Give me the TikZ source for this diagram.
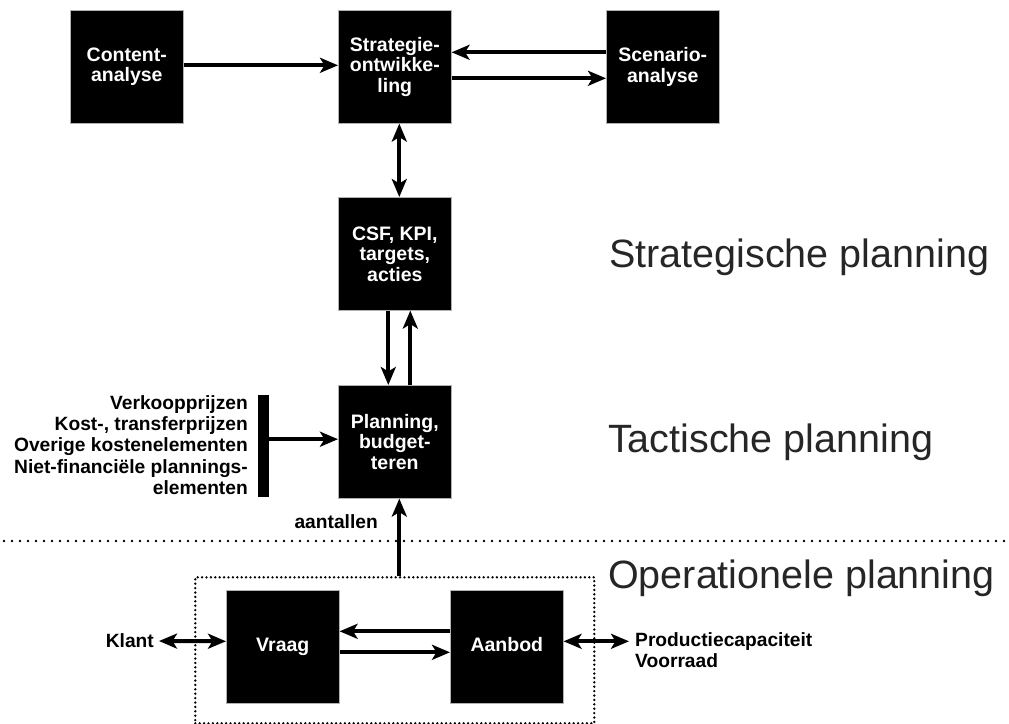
\documentclass[tikz,border=0pt]{standalone}
\usepackage{fontspec}
\setmainfont{Liberation Sans}
\usetikzlibrary{arrows.meta}
\begin{document}
\begin{tikzpicture}[x=1pt,y=-1pt,
  box/.style={draw=gray!60, line width=0.6pt, fill=black, text=white,
    font=\bfseries\fontsize{19.5}{20.5}\selectfont, minimum width=113pt,
    minimum height=113pt, align=center, inner sep=0pt, anchor=north west},
  conn/.style={line width=4pt, -{Stealth[length=18pt,width=15pt,inset=4.5pt]}},
  biconn/.style={line width=4pt, {Stealth[length=18pt,width=15pt,inset=4.5pt]}-{Stealth[length=18pt,width=15pt,inset=4.5pt]}},
  lbl/.style={font=\bfseries\fontsize{19.2}{21.25}\selectfont, inner sep=0pt},
  big/.style={font=\fontsize{39.5}{42}\selectfont, inner sep=0pt, anchor=base west, text=black!85},
  dotline/.style={line width=2.8pt, line cap=round, dash pattern=on 0pt off 8pt},
  dotbox/.style={draw, line width=2.6pt, line cap=round, dash pattern=on 0pt off 4.4pt}]
\useasboundingbox (0,0) rectangle (1009,723);

% boxes
\node[box] (content) at (70,10) {Content-\\analyse};
\node[box] (strat) at (338,10) {Strategie-\\ontwikke-\\ling};
\node[box] (scen) at (606,10) {Scenario-\\analyse};
\node[box] (csf) at (338,197) {CSF, KPI,\\targets,\\acties};
\node[box] (plan) at (338,385) {Planning,\\budget-\\teren};
\node[box, text height=14pt, text depth=4pt] (vraag) at (226,590) {Vraag};
\node[box, text height=14pt, text depth=4pt] (aanbod) at (450,590) {Aanbod};
\node[fill=black, minimum width=11pt, minimum height=102pt, inner sep=0pt, anchor=north west] (bar) at (258,395) {};

% operational dotted frame and separator
\node[dotbox, minimum width=399pt, minimum height=146pt, inner sep=0pt, anchor=north west] (ops) at (194,576) {};
\coordinate (dl) at (4,541);
\coordinate (dr) at (1009,541);
\draw[dotline] (dl) -- (dr);

% labels
\node[lbl, align=right, anchor=east] (inputs) at (248,445) {Verkoopprijzen\\Kost-, transferprijzen\\Overige kostenelementen\\Niet-financi\"ele plannings-\\elementen};
\node[lbl, anchor=base east] (aant) at (378,528) {aantallen};
\node[lbl, anchor=east] (klant) at (154,641) {Klant};
\node[lbl, align=left, anchor=west] (prod) at (635,650) {Productiecapaciteit\\Voorraad};

\node[big] (sp) at (609,267) {Strategische planning};
\node[big] (tp) at (608,452) {Tactische planning};
\node[big] (op) at (608,588) {Operationele planning};

% connectors
\draw[conn] ([yshift=1.5pt]content.east) -- ([yshift=1.5pt]strat.west);
\draw[conn] ([yshift=14.5pt]scen.west) -- ([yshift=14.5pt]strat.east);
\draw[conn] ([yshift=-11.5pt]strat.east) -- ([yshift=-11.5pt]scen.west);
\draw[biconn] ([xshift=4.5pt]strat.south) -- ([xshift=4.5pt]csf.north);
\draw[conn] ([xshift=-6.5pt]csf.south) -- ([xshift=-6.5pt]plan.north);
\draw[conn] ([xshift=15.5pt]plan.north) -- ([xshift=15.5pt]csf.south);
\draw[conn] ([yshift=7pt]bar.east) -- ([yshift=7pt]bar.east -| plan.west);
\draw[conn] ([xshift=4.5pt]plan.south |- ops.north) -- ([xshift=4.5pt]plan.south);
\draw[biconn] ([xshift=5pt]klant.east) -- ([yshift=5.5pt]vraag.west);
\draw[conn] ([yshift=15.5pt]aanbod.west) -- ([yshift=15.5pt]vraag.east);
\draw[conn] ([yshift=-5.5pt]vraag.east) -- ([yshift=-5.5pt]aanbod.west);
\draw[biconn] ([yshift=5.5pt]aanbod.east) -- ([yshift=5.5pt,xshift=-6pt]aanbod.east -| prod.west);
\end{tikzpicture}
\end{document}
